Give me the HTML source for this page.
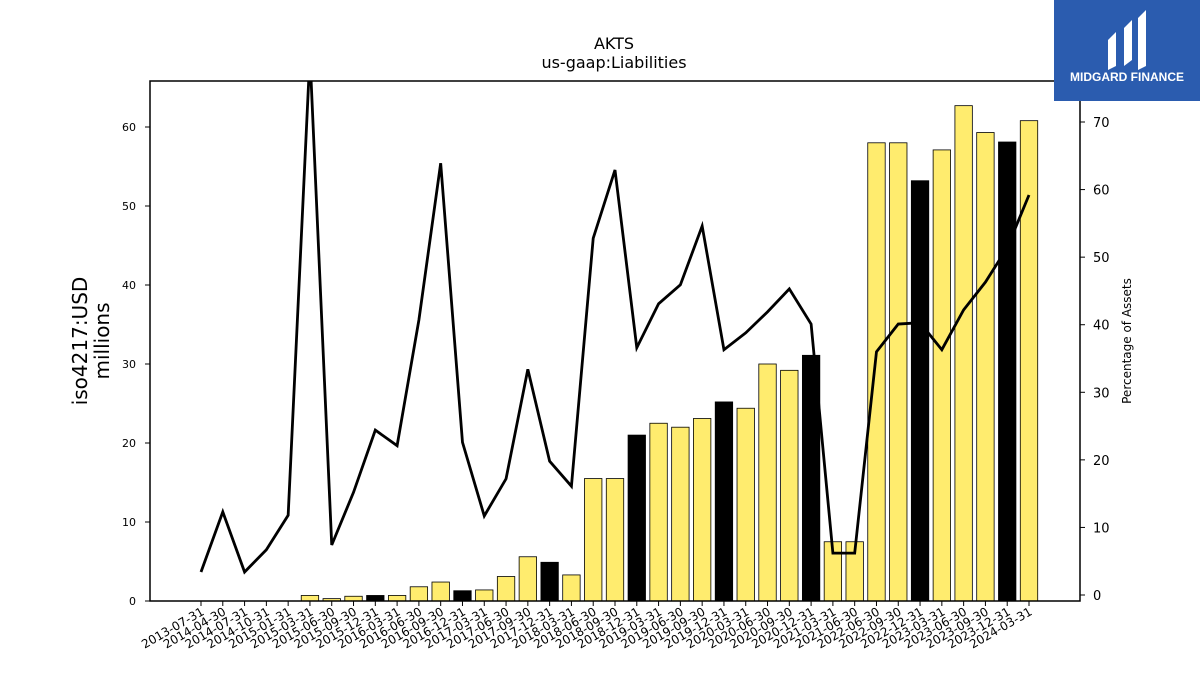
<!DOCTYPE html>
<html><head><meta charset="utf-8"><style>
body{margin:0;background:#fff;width:1200px;height:675px;overflow:hidden;font-family:"Liberation Sans","DejaVu Sans",sans-serif}
</style></head><body>
<svg id="chart" width="1200" height="675" xmlns="http://www.w3.org/2000/svg" font-family="DejaVu Sans, Liberation Sans, sans-serif">
<defs><clipPath id="plotclip"><rect x="150" y="81" width="930" height="520"/></clipPath></defs>
<text x="614" y="49" text-anchor="middle" font-size="16">AKTS</text>
<text x="614" y="68" text-anchor="middle" font-size="16">us-gaap:Liabilities</text>
<g id="bars" clip-path="url(#plotclip)"></g>
<g id="line" clip-path="url(#plotclip)"></g>
<rect x="150" y="81" width="930" height="520" fill="none" stroke="#000" stroke-width="1.5"/>
<g id="yleft"></g><g id="yright"></g><g id="xaxis"></g>
<text transform="translate(87,341) rotate(-90)" text-anchor="middle" font-size="20"><tspan x="0" dy="0">iso4217:USD</tspan><tspan x="0" dy="22">millions</tspan></text>
<text transform="translate(1131,341) rotate(-90)" text-anchor="middle" font-size="12">Percentage of Assets</text>
<g>
<rect x="1054" y="0" width="146" height="101" fill="#2b5caf"/>
<path d="M1108 40 L1116 32 L1116 66 L1108 70 Z M1124 28 L1132 20 L1132 60 L1124 66 Z M1138 18 L1146 10 L1146 66 L1138 70 Z" fill="#fff"/>
<text x="1127" y="81" text-anchor="middle" font-size="12" font-weight="bold" fill="#fff" font-family="Liberation Sans, sans-serif">MIDGARD FINANCE</text>
</g>
</svg>
<script>
const categories=["2013-07-31","2014-04-30","2014-07-31","2014-10-31","2015-01-31","2015-03-31","2015-06-30","2015-09-30","2015-12-31","2016-03-31","2016-06-30","2016-09-30","2016-12-31","2017-03-31","2017-06-30","2017-09-30","2017-12-31","2018-03-31","2018-06-30","2018-09-30","2018-12-31","2019-03-31","2019-06-30","2019-09-30","2019-12-31","2020-03-31","2020-06-30","2020-09-30","2020-12-31","2021-03-31","2021-06-30","2022-06-30","2022-09-30","2022-12-31","2023-03-31","2023-06-30","2023-09-30","2023-12-31","2024-03-31"];
const liabilities=[0,0,0,0,0,0.7,0.3,0.6,0.7,0.7,1.8,2.4,1.3,1.4,3.1,5.6,4.9,3.3,15.5,15.5,21.0,22.5,22.0,23.1,25.2,24.4,30.0,29.2,31.1,7.5,7.5,58.0,58.0,53.2,57.1,62.7,59.3,58.1,60.8];
const annualFlags=[0,0,0,0,0,0,0,0,1,0,0,0,1,0,0,0,1,0,0,0,1,0,0,0,1,0,0,0,1,0,0,0,0,1,0,0,0,1,0];
const pctAssets=[3.4,12.3,3.4,6.7,11.8,80,7.4,15.2,24.4,22.1,40.7,63.9,22.6,11.7,17.2,33.4,19.8,16.1,52.8,62.9,36.6,43.1,45.9,54.6,36.3,38.8,41.9,45.3,40.1,6.2,6.2,36.0,40.1,40.3,36.3,42.2,46.3,51.4,59.2];
const leftTicks=[0,10,20,30,40,50,60];
const rightTicks=[0,10,20,30,40,50,60,70];
const NS="http://www.w3.org/2000/svg";
const x0=201,x1=1029,step=(x1-x0)/(categories.length-1);
const xs=i=>x0+i*step;
const yL=v=>601-v*7.9;
const yR=v=>595-v*6.757;
function mk(tag,attrs,parent,txt){const e=document.createElementNS(NS,tag);for(const k in attrs)e.setAttribute(k,attrs[k]);if(txt!==undefined)e.textContent=txt;parent.appendChild(e);return e;}
const gb=document.getElementById('bars');
const bw=step*0.8;
liabilities.forEach((v,i)=>{
 const r=mk('rect',{x:xs(i)-bw/2,y:yL(v),width:bw,height:Math.max(0,601-yL(v)),fill:annualFlags[i]?'#000':'#ffec6e',stroke:'#000','stroke-width':0.8},gb);
 
 
});
const gl=document.getElementById('line');
const pl=mk('polyline',{points:pctAssets.map((v,i)=>xs(i)+','+yR(v)).join(' '),fill:'none',stroke:'#000','stroke-width':2.8,'stroke-linejoin':'miter'},gl);


const gy=document.getElementById('yleft');
leftTicks.forEach(t=>{
 mk('line',{x1:145,x2:150,y1:yL(t),y2:yL(t),stroke:'#000'},gy);
 const tx=mk('text',{x:136,y:yL(t)+4,'text-anchor':'end','font-size':11},gy,String(t));
 
 
});
const gr=document.getElementById('yright');
rightTicks.forEach(t=>{
 mk('line',{x1:1080,x2:1085,y1:yR(t),y2:yR(t),stroke:'#000'},gr);
 const tx=mk('text',{x:1093,y:yR(t)+5,'font-size':13},gr,String(t));
 
 
});
const gx=document.getElementById('xaxis');
categories.forEach((c,i)=>{
 mk('line',{x1:xs(i),x2:xs(i),y1:601,y2:606,stroke:'#000'},gx);
 const tx=mk('text',{transform:'translate('+(xs(i)+4)+',614) rotate(-30)','text-anchor':'end','font-size':12},gx,c);
 
 
});
</script>
</body></html>
